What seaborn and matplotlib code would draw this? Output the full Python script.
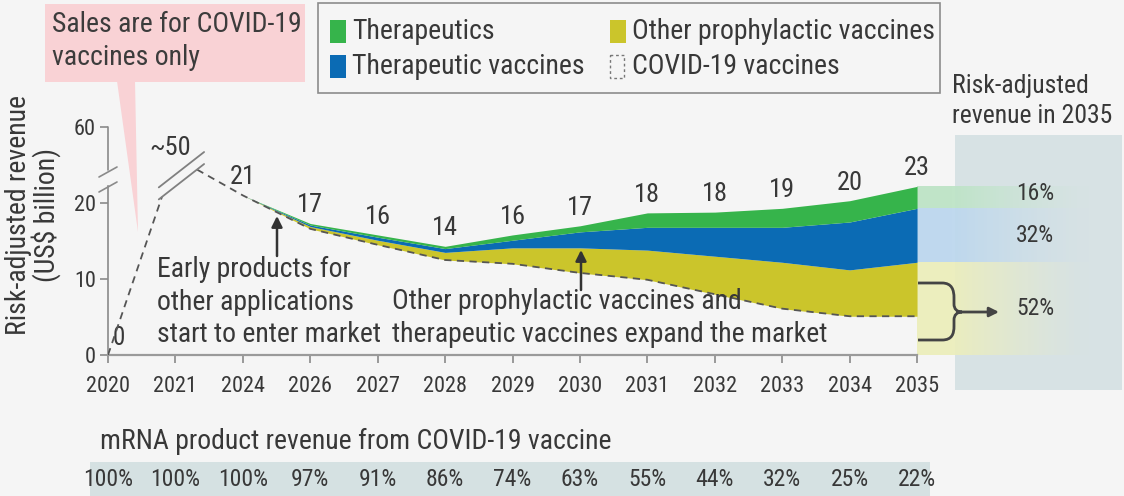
import numpy as np
import pandas as pd
import matplotlib
matplotlib.use("Agg")
import matplotlib.pyplot as plt
import seaborn as sns
from matplotlib import font_manager as fm
from matplotlib.patches import Rectangle, Polygon, PathPatch
from matplotlib.path import Path

# ---------------- data ----------------
years = ['2020', '2021', '2024', '2026', '2027', '2028', '2029',
         '2030', '2031', '2032', '2033', '2034', '2035']
total_revenue = [0, 50, 21, 17, 16, 14, 16, 17, 18, 18, 19, 20, 23]
covid_vaccines = [0, 50, 21, 16.6, 14.5, 12.5, 12.0, 10.8, 9.9, 8.0, 6.1, 5.1, 5.1]
other_prophylactic = [0, 0, 0, 0.3, 0.6, 1.0, 2.1, 3.3, 3.9, 5.0, 6.1, 6.1, 7.1]
therapeutic_vaccines = [0, 0, 0, 0.2, 0.4, 0.5, 1.0, 2.1, 3.0, 3.8, 4.6, 6.3, 7.1]
therapeutics = [0, 0, 0, 0.2, 0.3, 0.3, 0.7, 0.8, 1.9, 2.0, 2.5, 2.8, 4.0]
covid_share_pct = [100, 100, 100, 97, 91, 86, 74, 63, 55, 44, 32, 25, 22]
share_2035_pct = [16, 32, 52]   # therapeutics, therapeutic vaccines, covid + other prophylactic
y_ticks = [0, 10, 20, 60]

# ---------------- style ----------------
W, H, DPI = 1124, 496, 100
BG = '#f5f5f5'
TXT = '#383838'
GREEN = '#36b44b'
BLUE = '#0b6bb4'
YELLOW = '#cbc52b'
GREY = '#8a8a8a'

sns.set_theme(style='white')
names = {f.name for f in fm.fontManager.ttflist}
FONT, SC = 'DejaVu Sans', 0.78
for cand, s in [('Liberation Sans Narrow', 1.0), ('Roboto Condensed', 1.0),
                ('DejaVu Sans Condensed', 0.84), ('Open Sans Condensed', 0.95),
                ('Noto Sans', 0.8)]:
    if cand in names:
        FONT, SC = cand, s
        break
plt.rcParams['font.family'] = [FONT, 'DejaVu Sans']
plt.rcParams['text.color'] = TXT


def fs(x):
    return x * SC


# broken y axis: a scale mapping values to display units
BREAK_V = [0, 22, 50, 60, 70]
BREAK_D = [0, 22, 26, 30, 34]


def fwd(v):
    return np.interp(v, BREAK_V, BREAK_D)


def inv(d):
    return np.interp(d, BREAK_D, BREAK_V)


fig = plt.figure(figsize=(W / DPI, H / DPI), dpi=DPI, facecolor=BG)

# background decorations (pixel coordinates, y downwards)
bg = fig.add_axes([0, 0, 1, 1], zorder=-1)
bg.set_xlim(0, W)
bg.set_ylim(H, 0)
bg.axis('off')
bg.set_facecolor('none')

# main axes
X0, Y0, PX_IDX, PX_D = 108, 355, 67.42, 7.6
ax = fig.add_axes([X0 / W, (H - Y0) / H, (W - X0) / W, 34 * PX_D / H], zorder=0)
ax.set_facecolor('none')
ax.set_yscale('function', functions=(fwd, inv))
ax.set_xlim(0, (W - X0) / PX_IDX)
ax.set_ylim(0, 70)

# front overlay
fr = fig.add_axes([0, 0, 1, 1], zorder=5)
fr.set_xlim(0, W)
fr.set_ylim(H, 0)
fr.axis('off')
fr.set_facecolor('none')

# ---- right-hand panel & bottom band ----
bg.add_patch(Rectangle((955, 135), 167, 255, color='#d7e2e4', lw=0))
bg.add_patch(Rectangle((90, 462), 840, 40, color='#d5e1e2', lw=0))

# ---- callout ----
bg.add_patch(Rectangle((45, 4), 260, 78, color='#f9d2d5', lw=0))
bg.add_patch(Polygon([(117, 81), (135, 81), (138, 232)], closed=True, color='#f9d2d5', lw=0))
fr.text(52, 41, 'Sales are for COVID-19\nvaccines only', ha='left', va='center',
        fontsize=fs(20), linespacing=1.25, color='#3c3c3c')

# ---------------- data marks ----------------
x = np.arange(len(years))
cov = np.array(covid_vaccines, dtype=float)
l1 = cov + np.array(other_prophylactic)
l2 = l1 + np.array(therapeutic_vaccines)
l3 = l2 + np.array(therapeutics)
s = slice(2, None)
ax.fill_between(x[s], cov[s], l1[s], color=YELLOW, lw=0, zorder=2)
ax.fill_between(x[s], l1[s], l2[s], color=BLUE, lw=0, zorder=2)
ax.fill_between(x[s], l2[s], l3[s], color=GREEN, lw=0, zorder=2)

# COVID-19 line, broken around the ~50 peak
d_cov = fwd(cov)
XB1, XB2 = 0.80, 1.32
vb1 = float(inv(np.interp(XB1, x, d_cov)))
vb2 = float(inv(np.interp(XB2, x, d_cov)))
seg1 = pd.DataFrame({'x': [0, XB1], 'y': [cov[0], vb1]})
seg2 = pd.DataFrame({'x': [XB2] + list(x[2:]), 'y': [vb2] + list(cov[2:])})
for seg in (seg1, seg2):
    sns.lineplot(data=seg, x='x', y='y', ax=ax, color='#555555', lw=1.3,
                 linestyle=(0, (4, 3)), zorder=4, sort=False, estimator=None)
ax.set_xlabel('')
ax.set_ylabel('')

# break marks on the line
p1 = ax.transData.transform((XB1, vb1))
p2 = ax.transData.transform((XB2, vb2))
q1 = np.array([p1[0], H - p1[1]])
q2 = np.array([p2[0], H - p2[1]])
dv = (q2 - q1) / np.linalg.norm(q2 - q1)
a0 = q1 - dv * 4
a1 = q2 + dv * 9
for off in (0, -12):
    fr.plot([a0[0], a1[0]], [a0[1] + off, a1[1] + off], color='#808080', lw=1.3)

# light bands to the right of 2035, fading out
bands = [(l2[-1], l3[-1], '#bde4c6'), (l1[-1], l2[-1], '#bcd7ee'), (0, l1[-1], '#eceebb')]
XF0, XF1 = 12.5, 14.55
xs = np.linspace(12, XF1, 60)
for lo, hi, c in bands:
    for i in range(len(xs) - 1):
        xm = 0.5 * (xs[i] + xs[i + 1])
        a = 0.95 * np.clip((XF1 - xm) / (XF1 - XF0), 0, 1) ** 1.3
        ax.fill_between([xs[i], xs[i + 1]], [lo, lo], [hi, hi], color=c, alpha=a,
                        lw=0, antialiased=False, zorder=1)

# value labels
for i, v in enumerate(total_revenue):
    top = l3[i]
    if i == 0:
        ax.annotate(str(v), xy=(i, top), xytext=(3, 12), textcoords='offset points',
                    ha='left', va='center', fontsize=fs(18))
    elif i == 1:
        ax.annotate('~' + str(v), xy=(i, top), xytext=(-4, 7), textcoords='offset points',
                    ha='center', va='center', fontsize=fs(19))
    else:
        ax.annotate(str(v), xy=(i, top), xytext=(0, 13), textcoords='offset points',
                    ha='center', va='center', fontsize=fs(19))

# 2035 shares
mids = [(l2[-1] + l3[-1]) / 2, (l1[-1] + l2[-1]) / 2, l1[-1] / 2]
for pct, m in zip(share_2035_pct, mids):
    ax.text(13.47, m, f'{pct}%', ha='left', va='center', fontsize=fs(17), zorder=6)

# ---------------- axes styling ----------------
ax.set_xticks(x)
ax.set_xticklabels(years)
ax.set_yticks(y_ticks)
ax.set_yticklabels([str(t) for t in y_ticks])
ax.tick_params(axis='x', length=5.8, width=1.2, color=GREY, pad=9,
               labelsize=fs(16), labelcolor=TXT, bottom=True)
ax.tick_params(axis='y', length=5.8, width=1.2, color=GREY, pad=3,
               labelsize=fs(16), labelcolor=TXT, left=True)
for sp in ('top', 'right'):
    ax.spines[sp].set_visible(False)
ax.spines['bottom'].set_bounds(0, 12)
ax.spines['bottom'].set_color('#9a9a9a')
ax.spines['bottom'].set_linewidth(1.6)
ax.spines['left'].set_bounds(0, float(inv((Y0 - 186) / PX_D)))
ax.spines['left'].set_color(GREY)
ax.spines['left'].set_linewidth(1.2)
ax.plot([0, 0], [float(inv((Y0 - 170) / PX_D)), 60], color=GREY, lw=1.2,
        transform=ax.get_yaxis_transform(), clip_on=False)
# axis break marks
fr.plot([99, 117], [192, 182], color=GREY, lw=1.2)
fr.plot([99, 117], [177, 167], color=GREY, lw=1.2)

fig.text(33 / W, 1 - 215 / H, 'Risk-adjusted revenue\n(US$ billion)', rotation=90,
         ha='center', va='center', fontsize=fs(20), linespacing=1.0, color=TXT)

# ---------------- legend ----------------
fr.add_patch(Rectangle((318, 3), 622, 90, fill=False, edgecolor='#8c8c8c', lw=1.2))
leg = [(330, 20, GREEN, 'Therapeutics'), (330, 55, BLUE, 'Therapeutic vaccines'),
       (610, 20, YELLOW, 'Other prophylactic vaccines'), (610, 55, None, 'COVID-19 vaccines')]
for lx, ly, c, lab in leg:
    if c:
        fr.add_patch(Rectangle((lx, ly), 16, 23, color=c, lw=0))
    else:
        fr.add_patch(Rectangle((lx, ly), 14, 23, fill=False, edgecolor='#777777',
                               lw=1.0, linestyle=(0, (2, 2))))
    fr.text(lx + 22, ly + 11.5, lab, ha='left', va='center', fontsize=fs(20))

# ---------------- annotations ----------------
fr.text(952, 101, 'Risk-adjusted\nrevenue in 2035', ha='left', va='center',
        fontsize=fs(18.5), linespacing=1.35)
fr.text(157, 302, 'Early products for\nother applications\nstart to enter market',
        ha='left', va='center', fontsize=fs(20), linespacing=1.25)
fr.text(392, 318, 'Other prophylactic vaccines and\ntherapeutic vaccines expand the market',
        ha='left', va='center', fontsize=fs(20), linespacing=1.25)
arrow = dict(arrowstyle='-|>', lw=1.8, color='#333333', mutation_scale=16,
             shrinkA=0, shrinkB=0)
fr.annotate('', xy=(277, 216), xytext=(277, 256), arrowprops=arrow)
fr.annotate('', xy=(581, 250), xytext=(581, 290), arrowprops=arrow)

# brace + arrow
verts = [(918, 283), (942, 283), (952, 283), (954, 290), (954, 298), (954, 304),
         (954, 309), (957, 312), (962, 312), (957, 312), (954, 315), (954, 320),
         (954, 326), (954, 334), (952, 340), (942, 340), (918, 340)]
codes = [Path.MOVETO, Path.LINETO, Path.CURVE4, Path.CURVE4, Path.CURVE4, Path.LINETO,
         Path.CURVE4, Path.CURVE4, Path.CURVE4, Path.CURVE4, Path.CURVE4, Path.CURVE4,
         Path.LINETO, Path.CURVE4, Path.CURVE4, Path.CURVE4, Path.LINETO]
fr.add_patch(PathPatch(Path(verts, codes), fill=False, edgecolor='#444444', lw=2))
fr.annotate('', xy=(999, 312), xytext=(960, 312),
            arrowprops=dict(arrowstyle='-|>', lw=2, color='#444444', mutation_scale=14,
                            shrinkA=0, shrinkB=0))

# ---------------- bottom table ----------------
fr.text(100, 441, 'mRNA product revenue from COVID-19 vaccine', ha='left', va='center',
        fontsize=fs(20))
for i, p in enumerate(covid_share_pct):
    ax.annotate(f'{p}%', xy=(i, 0), xycoords=('data', 'data'), xytext=(0, -(479 - Y0) * 0.72),
                textcoords='offset points', ha='center', va='center', fontsize=fs(17),
                annotation_clip=False)

fig.savefig('out.png', dpi=DPI, facecolor=BG)
